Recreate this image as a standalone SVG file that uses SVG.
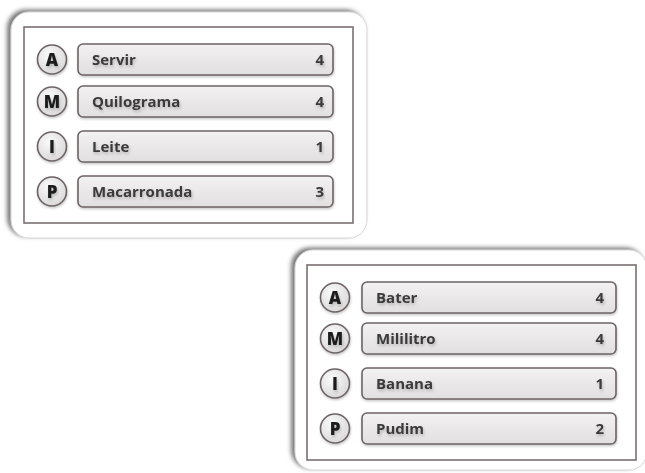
<svg xmlns="http://www.w3.org/2000/svg" width="645" height="473" viewBox="0 0 645 473">
<defs>
<filter id="cardShadow" x="-10%" y="-10%" width="120%" height="120%">
<feDropShadow dx="-3.5" dy="-2" stdDeviation="2" flood-color="#6a6a6a" flood-opacity="0.9"/>
</filter>
<filter id="soft" x="-10%" y="-20%" width="120%" height="150%">
<feDropShadow dx="0.5" dy="1.5" stdDeviation="1.2" flood-color="#000" flood-opacity="0.22"/>
</filter>
<filter id="txt" x="-10%" y="-30%" width="120%" height="170%">
<feDropShadow dx="1" dy="2" stdDeviation="1.6" flood-color="#000" flood-opacity="0.22"/>
</filter>
<linearGradient id="rowFill" x1="0" y1="0" x2="0" y2="1">
<stop offset="0" stop-color="#f3f1f2"/>
<stop offset="1" stop-color="#e2dfe0"/>
</linearGradient>
<radialGradient id="circFill" cx="0.4" cy="0.35" r="0.7">
<stop offset="0" stop-color="#fbfbfb"/>
<stop offset="1" stop-color="#d9d7d8"/>
</radialGradient>
</defs>
<style>
.card{fill:#ffffff;stroke:#d6d6d6;stroke-width:1;filter:url(#cardShadow)}
.frame{fill:none;stroke:#7b7071;stroke-width:1.6}
.row{fill:url(#rowFill);stroke:#6e6364;stroke-width:1.6;filter:url(#soft)}
.circ{fill:url(#circFill);stroke:#6e6364;stroke-width:1.6;filter:url(#soft)}
.lbl{font-family:"Open Sans","DejaVu Sans",sans-serif;font-weight:700;font-size:15px;fill:#3a3a3a;filter:url(#txt)}
.num{font-family:"Open Sans","DejaVu Sans",sans-serif;font-weight:700;font-size:15px;fill:#3a3a3a;text-anchor:end;filter:url(#txt)}
.let{font-family:"Open Sans","DejaVu Sans",sans-serif;font-weight:800;font-size:17px;fill:#1e1e1e;text-anchor:middle;filter:url(#txt)}
</style>

<g id="card1">
<rect class="card" x="11" y="12" width="356" height="226" rx="18"/>
<rect class="frame" x="24" y="27" width="329" height="196"/>
<g id="card1-A">
<circle class="circ" cx="52" cy="59.5" r="14.5"/>
<text class="let" x="52" y="65.5">A</text>
<rect class="row" x="78" y="44" width="255" height="31" rx="5"/>
<text class="lbl" x="92" y="65">Servir</text>
<text class="num" x="324" y="65">4</text>
</g>
<g id="card1-M">
<circle class="circ" cx="52" cy="101.5" r="14.5"/>
<text class="let" x="52" y="107.5">M</text>
<rect class="row" x="78" y="86" width="255" height="31" rx="5"/>
<text class="lbl" x="92" y="107">Quilograma</text>
<text class="num" x="324" y="107">4</text>
</g>
<g id="card1-I">
<circle class="circ" cx="52" cy="146.5" r="14.5"/>
<text class="let" x="52" y="152.5">I</text>
<rect class="row" x="78" y="131" width="255" height="31" rx="5"/>
<text class="lbl" x="92" y="152">Leite</text>
<text class="num" x="324" y="152">1</text>
</g>
<g id="card1-P">
<circle class="circ" cx="52" cy="191.5" r="14.5"/>
<text class="let" x="52" y="197.5">P</text>
<rect class="row" x="78" y="176" width="255" height="31" rx="5"/>
<text class="lbl" x="92" y="197">Macarronada</text>
<text class="num" x="324" y="197">3</text>
</g>
</g>

<g id="card2">
<rect class="card" x="295" y="250" width="352" height="220" rx="18"/>
<rect class="frame" x="307" y="265" width="329" height="195"/>
<g id="card2-A">
<circle class="circ" cx="335" cy="297.5" r="14.5"/>
<text class="let" x="335" y="303.5">A</text>
<rect class="row" x="362" y="282" width="254" height="31" rx="5"/>
<text class="lbl" x="376" y="303">Bater</text>
<text class="num" x="604" y="303">4</text>
</g>
<g id="card2-M">
<circle class="circ" cx="335" cy="338.5" r="14.5"/>
<text class="let" x="335" y="344.5">M</text>
<rect class="row" x="362" y="323" width="254" height="31" rx="5"/>
<text class="lbl" x="376" y="344">Mililitro</text>
<text class="num" x="604" y="344">4</text>
</g>
<g id="card2-I">
<circle class="circ" cx="335" cy="383.5" r="14.5"/>
<text class="let" x="335" y="389.5">I</text>
<rect class="row" x="362" y="368" width="254" height="31" rx="5"/>
<text class="lbl" x="376" y="389">Banana</text>
<text class="num" x="604" y="389">1</text>
</g>
<g id="card2-P">
<circle class="circ" cx="335" cy="428.5" r="14.5"/>
<text class="let" x="335" y="434.5">P</text>
<rect class="row" x="362" y="413" width="254" height="31" rx="5"/>
<text class="lbl" x="376" y="434">Pudim</text>
<text class="num" x="604" y="434">2</text>
</g>
</g>
</svg>
